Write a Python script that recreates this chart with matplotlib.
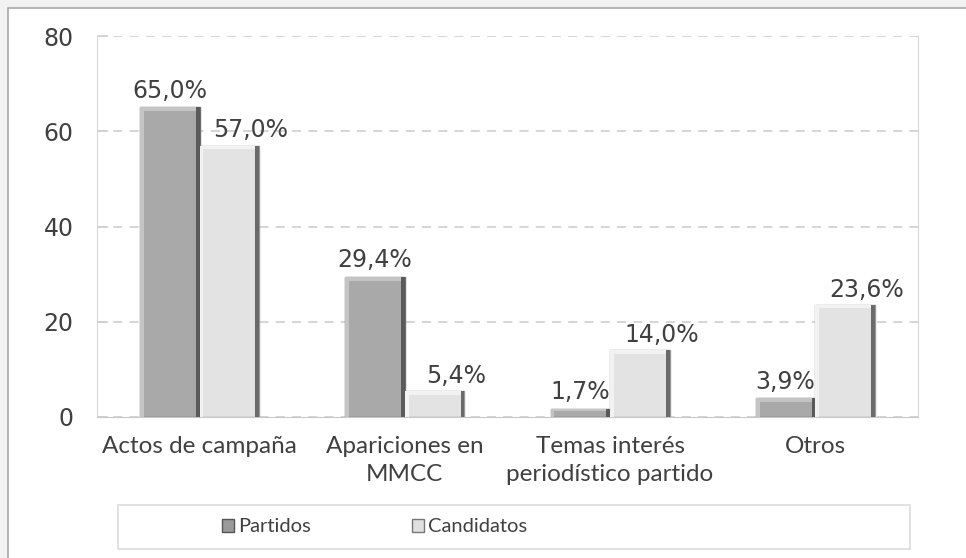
import matplotlib.pyplot as plt
from matplotlib.patches import Rectangle, Patch
import numpy as np

categorias = ['Actos de campaña', 'Apariciones en\nMMCC', 'Temas interés\nperiodístico partido', 'Otros']
partidos = [65.0, 29.4, 1.7, 3.9]
candidatos = [57.0, 5.4, 14.0, 23.6]
etiquetas_p = ['65,0%', '29,4%', '1,7%', '3,9%']
etiquetas_c = ['57,0%', '5,4%', '14,0%', '23,6%']

fig = plt.figure(figsize=(9.66, 5.58), dpi=100)
fig.patch.set_facecolor('#f2f2f2')
# marco blanco exterior
fig.patches.append(Rectangle((8 / 966, -0.1), 1.2, (550 + 56) / 558, transform=fig.transFigure,
                             facecolor='white', edgecolor='#a8a8a8', lw=1.2, zorder=-5))

ax = fig.add_axes([97 / 966, 141 / 558, 821 / 966, 381 / 558])
ax.set_facecolor('white')

x = np.arange(len(categorias))
w = 0.29


def barra_bisel(ax, xc, h, base, borde, luz, sombra):
    # barra con efecto biselado sencillo
    ax.bar(xc, h, w, color=base, edgecolor=borde, lw=1.0, zorder=3)
    dx = 0.018
    dy = min(0.8, h * 0.25)
    ax.bar(xc - w / 2 + dx / 2, h, dx, color=luz, lw=0, zorder=4)
    ax.bar(xc + w / 2 - dx / 2, h, dx, color=sombra, lw=0, zorder=4)
    ax.bar(xc, dy, w - 2 * dx, bottom=h - dy, color=luz, lw=0, zorder=4)


for i in range(len(categorias)):
    barra_bisel(ax, x[i] - w / 2, partidos[i], '#a9a9a9', '#6e6e6e', '#c4c4c4', '#5a5a5a')
    barra_bisel(ax, x[i] + w / 2, candidatos[i], '#e3e3e3', '#9a9a9a', '#f2f2f2', '#6a6a6a')
    ax.text(x[i] - w / 2, partidos[i] + 2.0, etiquetas_p[i], ha='center', va='baseline',
            fontsize=17, color='#404040', zorder=5)
    ax.text(x[i] + w / 2 + 0.105, candidatos[i] + 1.7, etiquetas_c[i], ha='center', va='baseline',
            fontsize=17, color='#404040', zorder=5)

ax.set_xlim(-0.5, 3.5)
ax.set_ylim(0, 80)
ax.set_yticks([0, 20, 40, 60, 80])
ax.yaxis.grid(True, color='#d2d2d2', lw=1.3, linestyle=(0, (5, 4)), zorder=0)
ax.set_axisbelow(True)
ax.set_xticks(x)
ax.set_xticklabels(categorias, fontsize=17.5, color='#404040', family='Lato', linespacing=1.4)
ax.tick_params(axis='y', labelsize=17, labelcolor='#404040', direction='in', length=8,
               color='#cfcfcf', width=1.2, pad=17)
ax.tick_params(axis='x', length=0, pad=14)
for s in ['left', 'right']:
    ax.spines[s].set_color('#d8d8d8')
ax.spines['top'].set_visible(False)
ax.spines['bottom'].set_color('#c8c8c8')

# leyenda
fig.patches.append(Rectangle((118 / 966, 1 - 549 / 558), 792 / 966, 44 / 558, transform=fig.transFigure,
                             facecolor='white', edgecolor='#dcdcdc', lw=1.2, zorder=1))
handles = [Patch(facecolor='#9a9a9a', edgecolor='#555555', label='Partidos'),
           Patch(facecolor='#e0e0e0', edgecolor='#777777', label='Candidatos')]
leg = fig.legend(handles=handles, loc='center left', bbox_to_anchor=(204 / 966, 1 - 527 / 558),
                 ncol=2, frameon=False, handlelength=0.6, handleheight=0.6, handletextpad=0.2,
                 columnspacing=5.0, prop={'family': 'Lato', 'size': 14.5})
for t in leg.get_texts():
    t.set_color('#404040')

fig.savefig('out.png', dpi=100, facecolor=fig.get_facecolor())
